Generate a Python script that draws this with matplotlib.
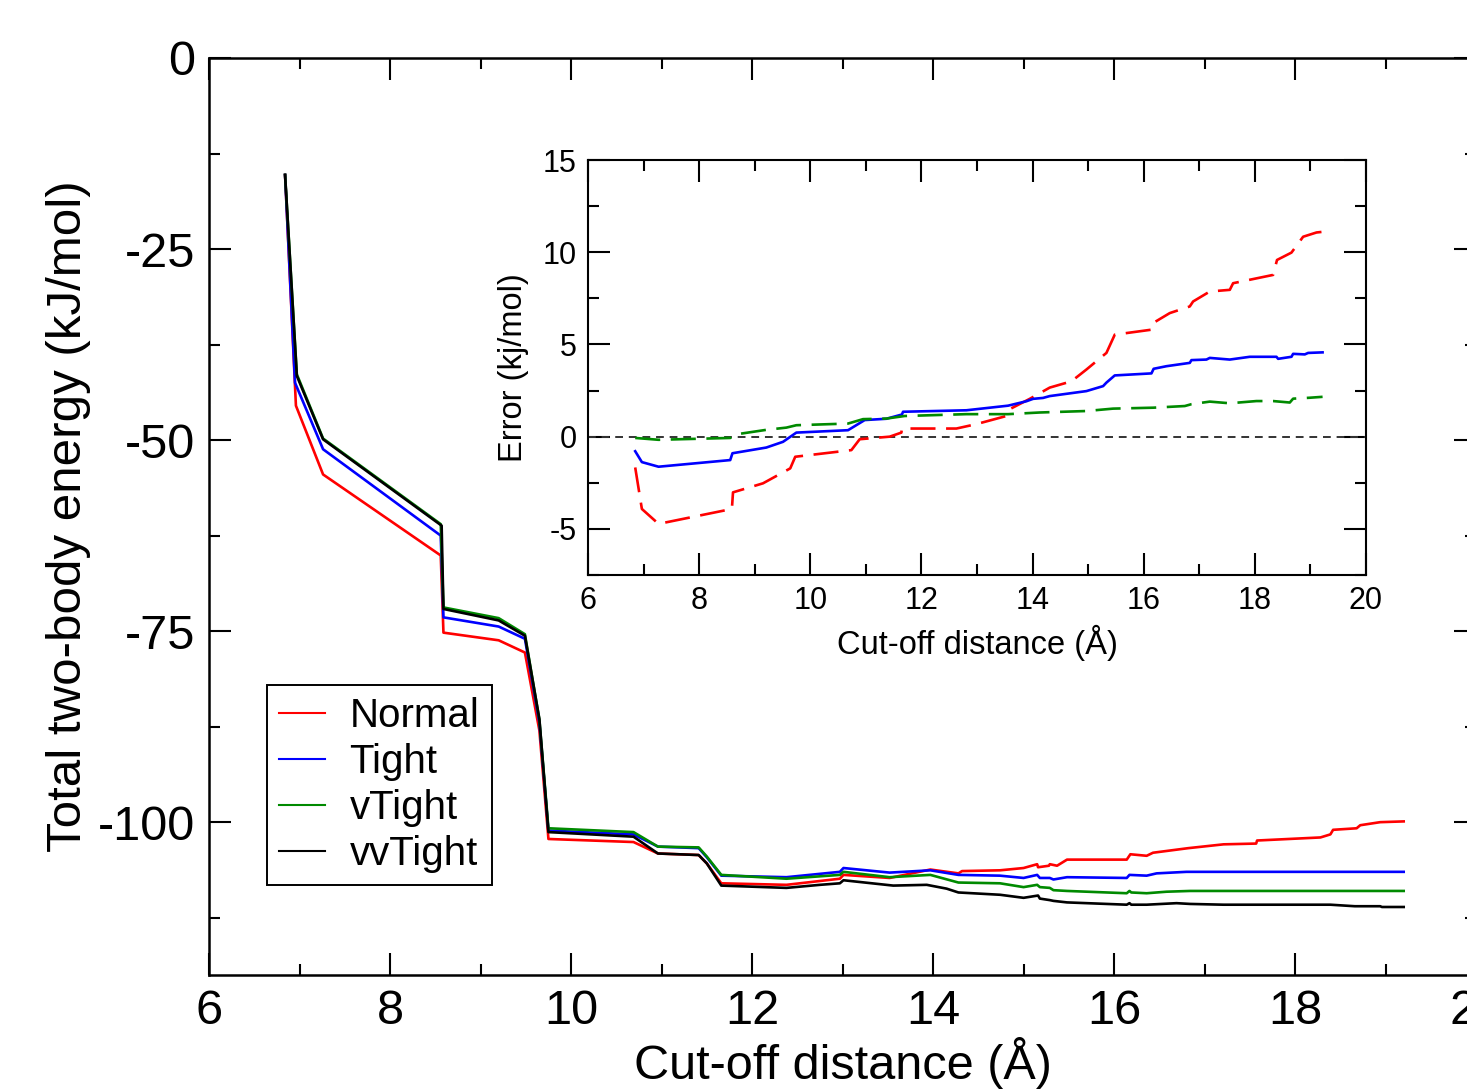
"""Two-body energy vs cut-off distance, with error inset."""

import matplotlib.pyplot as plt
from matplotlib.ticker import MultipleLocator

plt.rcParams["font.family"] = ["Liberation Sans", "DejaVu Sans"]
plt.rcParams["axes.unicode_minus"] = False

# main panel: total two-body energy (kJ/mol)
normal_x = [6.84, 6.96, 7.26, 8.56, 8.59, 9.20, 9.49, 9.65, 9.75, 10.69, 10.96, 11.41,
            11.50, 11.66, 12.38, 12.97, 13.01, 13.52, 13.97, 14.28, 14.32, 14.74, 15.00,
            15.15, 15.16, 15.28, 15.29, 15.37, 15.48, 16.14, 16.18, 16.36, 16.43, 16.82,
            17.21, 17.57, 17.58, 18.28, 18.39, 18.42, 18.68, 18.72, 18.94, 19.20]
normal_y = [-15.3, -45.5, -54.5, -65.1, -75.2, -76.2, -77.8, -88.0, -102.2, -102.6, -104.1,
            -104.3, -105.4, -108.0, -108.2, -107.4, -106.9, -107.3, -106.2, -106.7, -106.4,
            -106.3, -106.0, -105.5, -105.9, -105.7, -105.5, -105.7, -104.9, -104.9, -104.2,
            -104.4, -104.0, -103.4, -102.9, -102.8, -102.4, -102.0, -101.6, -101.0, -100.8,
            -100.4, -100.0, -99.9]

tight_x = [6.84, 6.95, 7.26, 8.56, 8.59, 9.20, 9.49, 9.65, 9.75, 10.69, 10.96, 11.41,
           11.50, 11.66, 12.38, 12.97, 13.01, 13.52, 13.97, 14.28, 14.74, 15.00, 15.15,
           15.18, 15.29, 15.33, 15.48, 16.14, 16.17, 16.36, 16.47, 16.80, 19.20]
tight_y = [-15.3, -42.5, -51.2, -62.5, -73.2, -74.4, -76.0, -87.0, -101.1, -101.6, -103.2,
           -103.4, -104.6, -107.0, -107.2, -106.5, -106.0, -106.6, -106.3, -106.9, -107.0,
           -107.3, -106.9, -107.3, -107.3, -107.5, -107.2, -107.3, -106.9, -107.0, -106.7,
           -106.5, -106.5]

vtight_x = [6.84, 6.97, 7.26, 8.56, 8.59, 9.20, 9.49, 9.65, 9.75, 10.69, 10.96, 11.41,
            11.50, 11.66, 12.38, 12.97, 13.01, 13.52, 13.97, 14.28, 14.74, 15.00, 15.15,
            15.18, 15.29, 15.33, 15.48, 16.14, 16.17, 16.19, 16.36, 16.58, 16.84, 19.20]
vtight_y = [-15.3, -41.4, -49.8, -61.0, -71.9, -73.3, -75.4, -86.6, -100.8, -101.3, -103.2,
            -103.3, -104.5, -106.9, -107.4, -106.9, -106.5, -107.2, -106.9, -107.9, -108.0,
            -108.5, -108.2, -108.5, -108.6, -108.9, -109.0, -109.3, -109.0, -109.2, -109.3,
            -109.1, -109.0, -109.0]

vvtight_x = [6.84, 6.97, 7.26, 8.57, 8.59, 9.20, 9.49, 9.65, 9.75, 10.69, 10.96, 11.41,
             11.50, 11.66, 12.38, 12.75, 12.97, 13.01, 13.56, 13.93, 14.15, 14.28, 14.74,
             15.00, 15.16, 15.18, 15.29, 15.33, 15.48, 16.14, 16.17, 16.19, 16.36, 16.69,
             16.84, 17.21, 18.39, 18.66, 18.94, 18.96, 19.20]
vvtight_y = [-15.3, -41.6, -49.9, -61.2, -72.1, -73.6, -75.6, -86.5, -101.3, -101.9, -104.1,
             -104.3, -105.4, -108.3, -108.6, -108.2, -108.0, -107.6, -108.3, -108.2, -108.7,
             -109.2, -109.5, -109.9, -109.6, -110.0, -110.2, -110.3, -110.5, -110.8, -110.6,
             -110.8, -110.8, -110.6, -110.7, -110.8, -110.8, -111.0, -111.0, -111.1, -111.1]

# inset: error relative to reference (kj/mol)
err_normal_x = [6.85, 6.97, 7.27, 8.59, 8.61, 9.15, 9.64, 9.73, 10.74, 10.89, 11.43, 11.64,
                11.65, 12.63, 12.99, 13.53, 13.59, 13.95, 14.31, 14.70, 14.97, 15.33, 15.48,
                16.14, 16.17, 16.47, 16.83, 16.89, 17.19, 17.55, 17.61, 18.33, 18.40, 18.66,
                18.87, 19.11, 19.20]
err_normal_y = [-1.67, -3.92, -4.73, -3.92, -3.02, -2.53, -1.72, -1.09, -0.73, -0.14, 0.0,
                0.22, 0.44, 0.44, 0.68, 1.12, 1.49, 2.05, 2.66, 3.0, 3.64, 4.54, 5.53, 5.8,
                6.16, 6.7, 7.06, 7.33, 7.87, 7.96, 8.32, 8.77, 9.58, 9.98, 10.84, 11.07,
                11.1]

err_tight_x = [6.85, 6.97, 7.27, 8.56, 8.60, 9.21, 9.51, 9.75, 10.68, 10.98, 11.37, 11.65,
               11.67, 12.81, 13.56, 13.89, 14.01, 14.19, 14.31, 14.97, 15.27, 15.33, 15.48,
               16.14, 16.18, 16.41, 16.83, 16.86, 17.13, 17.19, 17.55, 17.91, 18.39, 18.42,
               18.66, 18.69, 18.90, 18.96, 19.22]
err_tight_y = [-0.79, -1.38, -1.63, -1.27, -0.90, -0.59, -0.28, 0.22, 0.35, 0.90, 0.97, 1.20,
               1.35, 1.43, 1.68, 1.92, 2.05, 2.1, 2.2, 2.47, 2.74, 2.93, 3.32, 3.43, 3.68,
               3.82, 4.0, 4.15, 4.18, 4.27, 4.18, 4.33, 4.33, 4.22, 4.33, 4.49, 4.46, 4.54,
               4.57]

err_vtight_x = [6.85, 7.27, 8.56, 8.70, 9.21, 9.57, 9.75, 10.68, 10.95, 11.37, 11.70, 12.81,
                13.56, 14.13, 14.97, 15.45, 16.17, 16.74, 16.86, 17.19, 17.55, 18.03, 18.33,
                18.63, 18.69, 18.99, 19.22]
err_vtight_y = [-0.07, -0.17, -0.07, 0.14, 0.37, 0.49, 0.62, 0.71, 0.95, 0.98, 1.12, 1.22,
                1.22, 1.31, 1.39, 1.52, 1.57, 1.66, 1.76, 1.90, 1.81, 1.93, 1.93, 1.85, 2.06,
                2.11, 2.16]

labels = ["Normal", "Tight", "vTight", "vvTight"]
colors = ["#ff0000", "#0000ff", "#008a00", "#000000"]

fig = plt.figure(figsize=(14.67, 10.9), dpi=100)

# main axes (right spine falls just outside the canvas, as in the original)
ax = fig.add_axes([0.1425, 0.1055, 0.8637, 0.8413])
series = [(normal_x, normal_y), (tight_x, tight_y), (vtight_x, vtight_y),
          (vvtight_x, vvtight_y)]
for (xs, ys), lab, col in zip(series, labels, colors):
    ax.plot(xs, ys, color=col, lw=1.9, label=lab)

ax.set_xlim(6, 20)
ax.set_ylim(-120, 0)
ax.xaxis.set_major_locator(MultipleLocator(2))
ax.xaxis.set_minor_locator(MultipleLocator(1))
ax.yaxis.set_major_locator(MultipleLocator(25))
ax.yaxis.set_minor_locator(MultipleLocator(12.5))
ax.tick_params(which="both", direction="in", top=True, right=True, width=1.5,
               labelsize=35, pad=10)
ax.tick_params(which="major", length=16)
ax.tick_params(which="minor", length=8)
for sp in ax.spines.values():
    sp.set_linewidth(1.8)
ax.set_xlabel("Cut-off distance (Å)", fontsize=35, labelpad=2)
ax.set_ylabel("Total two-body energy (kJ/mol)", fontsize=35.5, labelpad=5)

leg = ax.legend(loc="upper left", bbox_to_anchor=(0.182, 0.3716),
                bbox_transform=fig.transFigure, borderaxespad=0, fontsize=29,
                frameon=True, fancybox=False, framealpha=1, edgecolor="black",
                handlelength=1.15, handletextpad=0.6, labelspacing=0.2, borderpad=0.3)
leg.get_frame().set_linewidth(1.4)
for line in leg.get_lines():
    line.set_linewidth(1.5)

# inset
ins = fig.add_axes([0.4008, 0.4725, 0.5303, 0.3807])
ins.axhline(0, color="#333333", lw=1.4, dashes=(4, 3))
ins.plot(err_normal_x, err_normal_y, color=colors[0], lw=1.9, dashes=(9.5, 4))
ins.plot(err_tight_x, err_tight_y, color=colors[1], lw=1.9)
ins.plot(err_vtight_x, err_vtight_y, color=colors[2], lw=1.9, dashes=(9.5, 4))
ins.set_xlim(6, 20)
ins.set_ylim(-7.5, 15)
ins.xaxis.set_major_locator(MultipleLocator(2))
ins.xaxis.set_minor_locator(MultipleLocator(1))
ins.yaxis.set_major_locator(MultipleLocator(5))
ins.yaxis.set_minor_locator(MultipleLocator(2.5))
ins.tick_params(which="both", direction="in", top=True, right=True, width=1.5,
                labelsize=22, pad=8)
ins.tick_params(which="major", length=16)
ins.tick_params(which="minor", length=8)
for sp in ins.spines.values():
    sp.set_linewidth(1.5)
ins.set_xlabel("Cut-off distance (Å)", fontsize=23.5, labelpad=6)
ins.set_ylabel("Error (kj/mol)", fontsize=23.5, labelpad=10)

fig.savefig("out.png", dpi=100)
